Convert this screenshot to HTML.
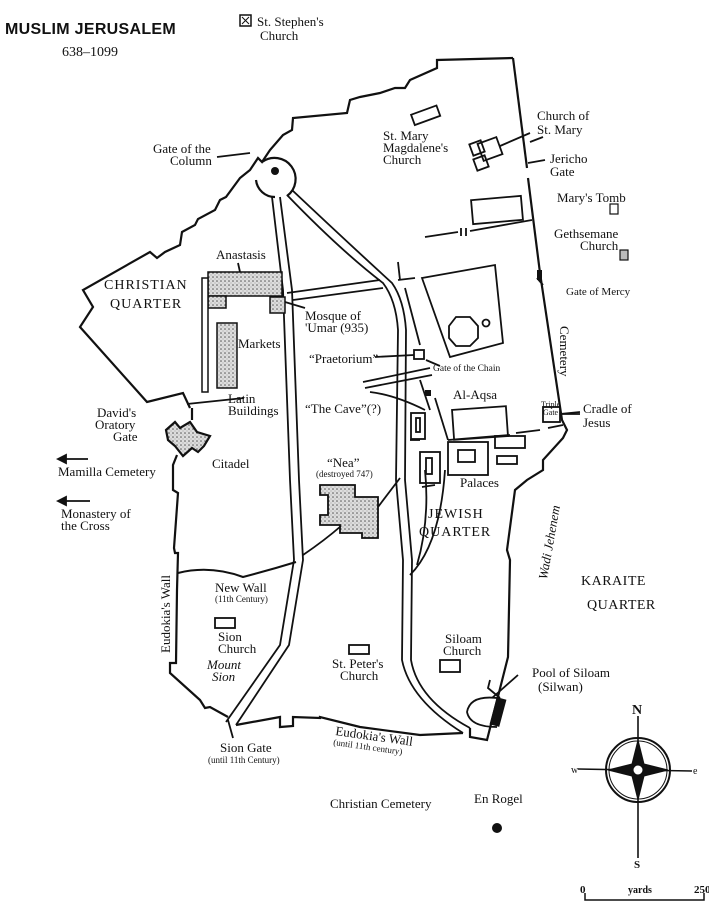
<!DOCTYPE html>
<html><head><meta charset="utf-8"><style>
html,body{margin:0;padding:0;background:#fff;}
svg{display:block;}
text{font-family:"Liberation Serif",serif;fill:#111;}
.t{font-size:13px;}
.s{font-size:9px;}
</style></head><body>
<svg width="709" height="912" viewBox="0 0 709 912" xmlns="http://www.w3.org/2000/svg">
<defs>
<pattern id="st" width="4" height="4" patternUnits="userSpaceOnUse"><rect width="4" height="4" fill="#ddd"/><circle cx="1" cy="1" r="0.8" fill="#555"/><circle cx="3" cy="3" r="0.5" fill="#888"/></pattern>
</defs>
<g fill="none" stroke="#111" stroke-width="2.2" stroke-linejoin="miter">
<!-- outer wall north-west -->
<polyline points="190,408 183,393 147,402 80,327 93,307 83,290 150,252 157,258 165,252 180,245 182,232 195,225 198,219 215,210 220,200 226,197 240,178 250,170 258,158 262,162 270,150 283,135 292,130 293,118 347,113 350,100 360,97 380,93 395,88 405,88 410,80 437,68 437,60 513,58"/>
<!-- east wall -->
<polyline points="513,58 527,168"/>
<polyline points="528,178 540,273 562,420 567,430 563,438 543,460 543,470 527,480 515,490 507,550 510,560 508,657 487,740 470,737 470,728"/>
<!-- south wall -->
<polyline points="463,733 420,735 360,727 320,717 320,718 293,717 293,726 280,727 280,717 236,725"/>
<!-- SW wall -->
<polyline points="228,717 210,707 205,708 200,700 170,673 170,663 176,663 177,590 178,553 175,553 174,548 178,493 173,490 173,465 177,455"/>
<!-- citadel -->
<polygon points="166,430 175,422 180,428 190,422 197,432 210,436 204,446 198,452 192,448 183,456 175,446 168,440" fill="url(#st)"/>
<line x1="192" y1="408" x2="192" y2="420"/>
<!-- circle gate -->
<path d="M262,162 A19,19 0 1 1 287,196"/>
<path d="M275,197 A19,19 0 0 1 256,180"/>
</g>
<circle cx="275" cy="171" r="4" fill="#111"/>
<g fill="none" stroke="#111" stroke-width="1.8">
<!-- west road -->
<path d="M272,197 L283,290 L290,480 L294,560 L280,645 L226,722"/>
<path d="M280,197 L292,290 L299,480 L303,560 L289,645 L236,725"/>
<!-- east road -->
<path d="M287,195 Q340,250 383,283 Q396,300 398,330 L396,480 L403,560 L402,660 Q410,700 463,733"/>
<path d="M292,190 Q345,240 392,283 Q404,300 406,330 L405,480 L412,560 L411,660 Q418,700 470,728"/>
<!-- cross street -->
<path d="M287,293 L380,280"/><path d="M293,300 L383,288"/>
<path d="M398,262 L400,280"/><path d="M405,288 L420,345"/><path d="M398,280 L415,278"/>
<!-- NE wall segment -->
<path d="M425,237 L458,232"/><path d="M461,228 L461,236"/><path d="M466,228 L466,236"/><path d="M470,231 L532,220"/>
<rect x="472" y="198" width="50" height="24" transform="rotate(-5 497 210)"/>
<!-- St Mary Magdalene -->
<rect x="412" y="110" width="27" height="11" transform="rotate(-20 425 115)"/>
<!-- Church of St Mary -->
<rect x="480" y="140" width="20" height="18" transform="rotate(-20 490 149)"/>
<rect x="471" y="142" width="12" height="12" transform="rotate(-20 477 148)"/>
<rect x="475" y="157" width="12" height="12" transform="rotate(-20 481 163)"/>
<path d="M500,146 L530,133"/>
<!-- Dome of the rock -->
<polygon points="422,278 495,265 503,343 450,357"/>
<polygon points="456,317 470,317 478,326 478,338 470,346 456,346 449,338 449,326"/>
<circle cx="486" cy="323" r="3.5"/>
<!-- praetorium -->
<rect x="414" y="350" width="10" height="9"/>
<path d="M375,357 L414,355"/>
<path d="M426,360 L440,366"/>
<path d="M363,382 L430,368"/><path d="M365,388 L432,375"/>
<path d="M370,392 Q395,395 425,410"/>
<path d="M430,410 L420,380"/>
<rect x="411" y="413" width="14" height="26"/><rect x="416" y="418" width="4" height="14"/>
<rect x="420" y="452" width="20" height="31"/><rect x="426" y="458" width="6" height="16"/>
<!-- Al-Aqsa -->
<rect x="453" y="408" width="54" height="30" transform="rotate(-4 480 423)"/>
<path d="M435,398 L448,440"/>
<path d="M448,440 L510,435"/><path d="M516,433 L540,430"/><path d="M548,428 L563,425"/>
<rect x="448" y="442" width="40" height="33"/><rect x="458" y="450" width="17" height="12"/>
<rect x="495" y="436" width="30" height="12"/><rect x="497" y="456" width="20" height="8"/>
<rect x="543" y="407" width="17" height="15"/>
<path d="M560,414 L580,414"/>
<!-- cradle line, gates -->
<path d="M410,440 L420,440"/><path d="M422,487 L435,485"/>
<!-- Nea -->
<polygon points="320,485 355,485 355,497 378,497 378,538 362,538 362,533 340,533 340,525 320,525 320,515 328,515 328,495 320,495" fill="url(#st)"/>
<path d="M378,507 L400,478"/>
<path d="M341,526 Q325,540 303,555"/>
<!-- new wall -->
<path d="M178,573 Q210,565 243,577 Q270,570 296,562" stroke-width="2"/>
<!-- small churches -->
<rect x="215" y="618" width="20" height="10"/>
<rect x="349" y="645" width="20" height="9"/>
<rect x="440" y="660" width="20" height="12"/>
<!-- pool -->
<path d="M497,698 Q470,695 467,712 Q470,727 497,727"/>
<path d="M500,698 L488,688 L490,680"/>
<path d="M492,698 L518,675"/>
<!-- jewish inner road -->
<path d="M417,565 Q430,520 425,470"/><path d="M410,575 Q440,545 445,470"/>
<!-- leader lines -->
<path d="M217,157 L250,153"/>
<path d="M244,398 L187,404"/>
<path d="M543,137 L530,142"/>
<path d="M545,160 L528,163"/>
<path d="M543,285 L537,278"/>
<path d="M305,308 L285,302"/>
<path d="M238,263 L240,272"/>
<path d="M228,720 L233,738"/>
<path d="M560,414 L580,412"/>
</g>
<rect x="537" y="270" width="5" height="10" fill="#111"/>
<rect x="493" y="698" width="10" height="28" fill="#111" transform="rotate(15 498 712)"/>
<rect x="425" y="390" width="6" height="6" fill="#111"/>
<!-- small icons -->
<rect x="240" y="15" width="11" height="11" fill="#fff" stroke="#111" stroke-width="1.5"/><path d="M242,17 L249,24 M249,17 L242,24" stroke="#111"/>
<rect x="610" y="204" width="8" height="10" fill="#fff" stroke="#111" stroke-width="1.2"/>
<rect x="620" y="250" width="8" height="10" fill="#bbb" stroke="#111" stroke-width="1.2"/>
<!-- Anastasis -->
<rect x="208" y="272" width="74" height="24" fill="url(#st)" stroke="#111" stroke-width="1.5"/>
<rect x="208" y="296" width="18" height="12" fill="url(#st)" stroke="#111" stroke-width="1.5"/>
<rect x="202" y="278" width="6" height="114" fill="#fff" stroke="#111" stroke-width="1.5"/>
<rect x="217" y="323" width="20" height="65" fill="url(#st)" stroke="#111" stroke-width="1.5"/>
<rect x="270" y="297" width="15" height="16" fill="url(#st)" stroke="#111" stroke-width="1.5"/>
<!-- arrows -->
<g stroke="#111" stroke-width="1.8" fill="#111">
<line x1="62" y1="459" x2="88" y2="459"/><polygon points="58,459 66,455 66,463"/>
<line x1="62" y1="501" x2="90" y2="501"/><polygon points="58,501 66,497 66,505"/>
</g>
<circle cx="497" cy="828" r="5" fill="#111"/>
<!-- compass -->
<g stroke="#111" fill="none">
<circle cx="638" cy="770" r="32" stroke-width="2"/>
<circle cx="638" cy="770" r="29" stroke-width="1"/>
<line x1="638" y1="716" x2="638" y2="858" stroke-width="1.6"/>
<line x1="578" y1="769" x2="692" y2="771" stroke-width="1.6"/>
<polygon points="638,740 644,764 668,770 644,776 638,800 632,776 608,770 632,764" fill="#111"/>
<circle cx="638" cy="770" r="5" fill="#fff"/>
<path d="M585,893 L585,900 L704,900 L704,893" stroke-width="1.5"/>
</g>
<text x="632" y="714" style="font-size:14px;font-weight:bold">N</text>
<text x="634" y="868" style="font-size:11px;font-weight:bold">S</text>
<text x="571" y="773" style="font-size:10px">w</text>
<text x="693" y="774" style="font-size:10px">e</text>
<text x="580" y="893" style="font-size:11px;font-weight:bold">0</text>
<text x="628" y="893" style="font-size:10px;font-weight:bold">yards</text>
<text x="694" y="893" style="font-size:11px;font-weight:bold">250</text>
<!-- text -->
<text x="5" y="34" style="font-size:16px;font-weight:bold;font-family:'Liberation Sans',sans-serif;letter-spacing:0.3px">MUSLIM JERUSALEM</text>
<text x="62" y="56" style="font-size:14px">638–1099</text>
<text class="t" x="257" y="26">St. Stephen's</text>
<text class="t" x="260" y="40">Church</text>
<text class="t" x="153" y="153">Gate of the</text>
<text class="t" x="170" y="165">Column</text>
<text class="t" x="383" y="140">St. Mary</text>
<text class="t" x="383" y="152">Magdalene's</text>
<text class="t" x="383" y="164">Church</text>
<text class="t" x="537" y="120">Church of</text>
<text class="t" x="537" y="134">St. Mary</text>
<text class="t" x="550" y="163">Jericho</text>
<text class="t" x="550" y="176">Gate</text>
<text class="t" x="557" y="202">Mary's Tomb</text>
<text class="t" x="554" y="238">Gethsemane</text>
<text class="t" x="580" y="250">Church</text>
<text x="566" y="295" style="font-size:11px">Gate of Mercy</text>
<text class="t" transform="translate(560,326) rotate(90)">Cemetery</text>
<text class="t" x="216" y="259">Anastasis</text>
<text x="104" y="289" style="font-size:14px;letter-spacing:1px">CHRISTIAN</text>
<text x="110" y="308" style="font-size:14px;letter-spacing:1px">QUARTER</text>
<text class="t" x="305" y="320">Mosque of</text>
<text class="t" x="305" y="332">'Umar (935)</text>
<text class="t" x="238" y="348">Markets</text>
<text class="t" x="309" y="363">“Praetorium”</text>
<text x="433" y="371" style="font-size:9.5px">Gate of the Chain</text>
<text class="t" x="228" y="403">Latin</text>
<text class="t" x="228" y="415">Buildings</text>
<text class="t" x="305" y="413">“The Cave”(?)</text>
<text class="t" x="453" y="399">Al-Aqsa</text>
<text x="541" y="407" style="font-size:8px">Triple</text>
<text x="543" y="415" style="font-size:8px">Gate</text>
<text class="t" x="583" y="413">Cradle of</text>
<text class="t" x="583" y="427">Jesus</text>
<text class="t" x="97" y="417">David's</text>
<text class="t" x="95" y="429">Oratory</text>
<text class="t" x="113" y="441">Gate</text>
<text class="t" x="212" y="468">Citadel</text>
<text class="t" x="58" y="476">Mamilla Cemetery</text>
<text class="t" x="61" y="518">Monastery of</text>
<text class="t" x="61" y="530">the Cross</text>
<text class="t" x="327" y="467">“Nea”</text>
<text class="s" x="316" y="477">(destroyed 747)</text>
<text class="t" x="460" y="487">Palaces</text>
<text x="428" y="518" style="font-size:14px;letter-spacing:1px">JEWISH</text>
<text x="419" y="536" style="font-size:14px;letter-spacing:1px">QUARTER</text>
<text class="t" style="font-style:italic" transform="translate(547,580) rotate(-80)">Wadi Jehenem</text>
<text x="581" y="585" style="font-size:14px;letter-spacing:0.5px">KARAITE</text>
<text x="587" y="609" style="font-size:14px;letter-spacing:0.5px">QUARTER</text>
<text class="t" x="215" y="592">New Wall</text>
<text class="s" x="215" y="602">(11th Century)</text>
<text class="t" transform="translate(170,653) rotate(-90)">Eudokia's Wall</text>
<text class="t" x="218" y="641">Sion</text>
<text class="t" x="218" y="653">Church</text>
<text class="t" style="font-style:italic" x="207" y="669">Mount</text>
<text class="t" style="font-style:italic" x="212" y="681">Sion</text>
<text class="t" x="332" y="668">St. Peter's</text>
<text class="t" x="340" y="680">Church</text>
<text class="t" x="445" y="643">Siloam</text>
<text class="t" x="443" y="655">Church</text>
<text class="t" x="532" y="677">Pool of Siloam</text>
<text class="t" x="538" y="691">(Silwan)</text>
<text class="t" transform="translate(335,735) rotate(8)">Eudokia's Wall</text>
<text class="s" transform="translate(333,745) rotate(8)">(until 11th century)</text>
<text class="t" x="220" y="752">Sion Gate</text>
<text class="s" x="208" y="763">(until 11th Century)</text>
<text class="t" x="330" y="808">Christian Cemetery</text>
<text class="t" x="474" y="803">En Rogel</text>
</svg>
</body></html>
